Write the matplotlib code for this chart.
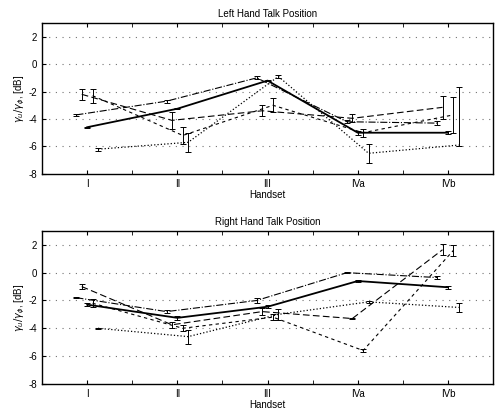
import matplotlib
matplotlib.use("Agg")
import matplotlib.pyplot as plt
import numpy as np

plt.rcParams['font.family'] = ['Liberation Sans', 'DejaVu Sans']

handsets = ["I", "II", "III", "IVa", "IVb"]
y_ticks = [-8, -6, -4, -2, 0, 2]

# left hand talk position
left_solid = [-4.6, -3.25, -1.2, -5.0, -5.0]
left_solid_err = [0.05, 0.05, 0.05, 0.15, 0.1]
left_dashdot = [-3.7, -2.7, -1.0, -4.2, -4.3]
left_dashdot_err = [0.1, 0.1, 0.1, 0.1, 0.15]
left_dashed = [-2.2, -4.1, -3.4, -3.95, -3.15]
left_dashed_err = [0.4, 0.6, 0.4, 0.3, 0.85]
left_short = [-2.3, -5.2, -3.0, -5.0, -3.7]
left_short_err = [0.5, 0.6, 0.5, 0.3, 1.3]
left_dotted = [-6.2, -5.7, -0.9, -6.5, -5.9]
left_dotted_lo = [0.1, 0.7, 0.1, 0.7, 0.1]
left_dotted_hi = [0.1, 0.7, 0.1, 0.7, 4.2]

# right hand talk position
right_solid = [-2.3, -3.25, -2.45, -0.6, -1.05]
right_solid_err = [0.1, 0.15, 0.1, 0.05, 0.1]
right_dashdot = [-1.8, -2.8, -2.0, 0.0, -0.35]
right_dashdot_err = [0.05, 0.1, 0.2, 0.05, 0.1]
right_dashed = [-1.0, -3.75, -2.8, -3.3, 1.65]
right_dashed_err = [0.15, 0.2, 0.25, 0.05, 0.4]
right_short = [-2.2, -4.0, -3.2, -5.6, 1.6]
right_short_err = [0.3, 0.2, 0.2, 0.1, 0.4]
right_dotted = [-4.0, -4.6, -3.0, -2.1, -2.5]
right_dotted_lo = [0.05, 0.5, 0.4, 0.05, 0.3]
right_dotted_hi = [0.05, 0.5, 0.4, 0.05, 0.3]


def draw(ax, series, title, ylab):
    x = np.arange(1, len(handsets) + 1)
    for vals, err, off, ls, lw in series:
        ax.errorbar(x + off, vals, yerr=err, color='black', ls=ls, lw=lw,
                    elinewidth=0.7, capsize=2, capthick=0.7)
    ax.set_xlim(0.5, 5.5)
    ax.set_ylim(-8, 3)
    ax.set_xticks(x)
    ax.set_xticklabels(handsets)
    ax.set_xticks(np.arange(1.5, 5.5, 1.0), minor=True)
    ax.set_yticks(y_ticks)
    ax.set_yticklabels([str(v) for v in y_ticks])
    for v in y_ticks[1:]:
        ax.axhline(v, color='0.45', ls=(0, (1, 5)), lw=0.8, zorder=0)
    ax.tick_params(direction='in', top=True, labelsize=7, length=3, width=0.8)
    ax.tick_params(which='minor', direction='in', top=True, length=3)
    for s in ax.spines.values():
        s.set_linewidth(1.0)
    ax.set_title(title, fontsize=7, pad=4)
    ax.set_xlabel("Handset", fontsize=7, labelpad=1)
    ax.set_ylabel(ylab, fontsize=7, labelpad=1)


fig = plt.figure(figsize=(4.95, 4.11), dpi=100)
ax1 = fig.add_axes([0.085, 0.577, 0.911, 0.367])
ax2 = fig.add_axes([0.085, 0.066, 0.911, 0.372])

draw(ax1, [
    (left_solid, left_solid_err, 0.0, '-', 1.3),
    (left_dashdot, left_dashdot_err, -0.12, '-.', 0.8),
    (left_dashed, left_dashed_err, -0.06, (0, (6, 3)), 0.8),
    (left_short, left_short_err, 0.06, (0, (3, 3)), 0.8),
    (left_dotted, [left_dotted_lo, left_dotted_hi], 0.12, ':', 0.9),
], "Left Hand Talk Position", r"$\gamma_u/\gamma_\phi$, [dB]")

draw(ax2, [
    (right_solid, right_solid_err, 0.0, '-', 1.3),
    (right_dashdot, right_dashdot_err, -0.12, '-.', 0.8),
    (right_dashed, right_dashed_err, -0.06, (0, (6, 3)), 0.8),
    (right_short, right_short_err, 0.06, (0, (3, 3)), 0.8),
    (right_dotted, [right_dotted_lo, right_dotted_hi], 0.12, ':', 0.9),
], "Right Hand Talk Position", r"$\gamma_u/\gamma_\phi$, [dB]")

fig.savefig("out.png", dpi=100)
